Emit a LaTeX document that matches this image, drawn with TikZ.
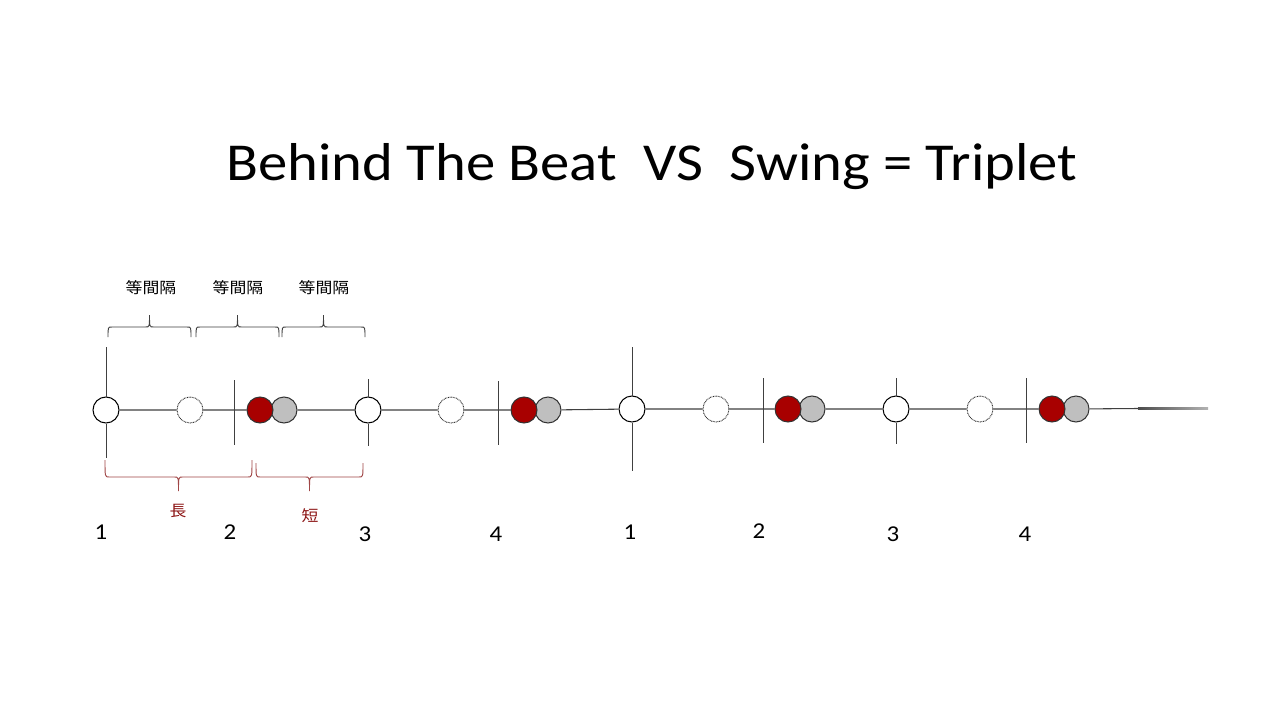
\documentclass[tikz,border=0pt]{standalone}
\usepackage{fontspec}
\setmainfont{Carlito}
\newfontfamily\cjk{Noto Sans CJK JP}
\definecolor{lineg}{RGB}{64,64,64}
\definecolor{beatred}{RGB}{168,0,0}
\definecolor{ghost}{RGB}{191,191,191}
\definecolor{bracered}{RGB}{160,70,70}
\definecolor{labred}{RGB}{140,20,20}
\newcommand\obr[5]{%
  \draw (#1,#3) .. controls (#1,#4) .. ({#1+4},#4) -- ({(#1+#2)/2-4},#4)
    .. controls ({(#1+#2)/2},#4) .. ({(#1+#2)/2},#5)
    .. controls ({(#1+#2)/2},#4) .. ({(#1+#2)/2+4},#4) -- ({#2-4},#4)
    .. controls (#2,#4) .. (#2,#3);}
\newcommand\wide[1]{\scalebox{1.1}[1]{#1}}
\tikzset{
  beat/.style={circle,draw=black,fill=white,line width=0.75pt,minimum size=19.5pt,inner sep=0pt},
  ghostbeat/.style={circle,draw=black!85,dash pattern=on 0.6pt off 0.6pt,fill=white,line width=0.7pt,minimum size=19.5pt,inner sep=0pt},
  redbeat/.style={circle,draw=black!80,fill=beatred,line width=0.75pt,minimum size=19.5pt,inner sep=0pt},
  graybeat/.style={circle,draw=black!80,fill=ghost,line width=0.75pt,minimum size=19.5pt,inner sep=0pt},
  mainline/.style={draw=lineg,line width=0.8pt},
  tick/.style={draw=black!75,line width=0.75pt},
  num/.style={font=\fontsize{17}{20}\selectfont,anchor=base},
  eqlab/.style={font=\cjk\fontsize{11.5}{14}\selectfont},
  redlab/.style={font=\cjk\fontsize{11.5}{14}\selectfont,text=labred}
}
\begin{document}
\begin{tikzpicture}[x=0.75pt,y=-0.75pt]
\useasboundingbox (0,0) rectangle (1280,720);
\fill[white] (0,0) rectangle (1280,720);
% title
\node[anchor=base,font=\fontsize{40}{48}\selectfont] (title) at (652,181) {\wide{Behind The Beat\ \ VS\ \ Swing = Triplet}};
% gray circles first (behind red)
\node[graybeat] (g1) at (284,410) {};
\node[graybeat] (g2) at (548,410) {};
\node[graybeat] (g3) at (812,409) {};
\node[graybeat] (g4) at (1076,409) {};
\node[redbeat] (r1) at (260,410) {};
\node[redbeat] (r2) at (524,410) {};
\node[redbeat] (r3) at (788,409) {};
\node[redbeat] (r4) at (1052,409) {};
\node[beat] (b1) at (106,410) {};
\node[beat] (b2) at (368,410) {};
\node[beat] (b3) at (632,409) {};
\node[beat] (b4) at (896,409) {};
\node[ghostbeat] (d1) at (190,410) {};
\node[ghostbeat] (d2) at (451,410) {};
\node[ghostbeat] (d3) at (716,409) {};
\node[ghostbeat] (d4) at (980,409) {};
\coordinate (lend) at (1138,408.5);
% main line
\path[mainline] (b1) -- (d1) (d1) -- (r1) (g1) -- (b2) (b2) -- (d2) (d2) -- (r2) (g2) -- (b3)
  (b3) -- (d3) (d3) -- (r3) (g3) -- (b4) (b4) -- (d4) (d4) -- (r4) (g4) -- (lend);
\shade[left color=black!70,right color=black!30] (1138,407.9) rectangle (1208,409.1);
% ticks on beat circles
\path[tick] (b1.north) -- ++(0,-50) (b1.south) -- ++(0,34);
\path[tick] (b2.north) -- ++(0,-18) (b2.south) -- ++(0,22);
\path[tick] (b3.north) -- ++(0,-49) (b3.south) -- ++(0,48);
\path[tick] (b4.north) -- ++(0,-18) (b4.south) -- ++(0,21);
% vertical lines at 2 and 4
\path[tick] (234,380) -- (234,445);
\path[tick] (498,381) -- (498,445);
\path[tick] (763,378) -- (763,443);
\path[tick] (1026,378) -- (1026,443);
% top braces
\begin{scope}[draw=black!75,line width=0.7pt]
\obr{108}{191}{337}{327}{315}
\obr{196}{279}{337}{327}{315}
\obr{282}{365}{337}{327}{315}
\end{scope}
\node[eqlab] (e1) at (151,288) {\wide{等間隔}};
\node[eqlab] (e2) at (238,288) {\wide{等間隔}};
\node[eqlab] (e3) at (324,288) {\wide{等間隔}};
% bottom braces
\begin{scope}[draw=bracered,line width=0.7pt]
\obr{105}{252}{460}{477}{491}
\obr{256}{363}{463}{477}{491}
\end{scope}
\node[redlab] (long) at (178,511) {\wide{長}};
\node[redlab] (short) at (310,516) {\wide{短}};
% beat numbers
\node[num] (n1) at (101,539) {\wide{1}};
\node[num] (n2) at (230,539) {\wide{2}};
\node[num] (n3) at (365,541) {\wide{3}};
\node[num] (n4) at (496,541) {\wide{4}};
\node[num] (n5) at (630,539) {\wide{1}};
\node[num] (n6) at (759,538) {\wide{2}};
\node[num] (n7) at (893,541) {\wide{3}};
\node[num] (n8) at (1025,541) {\wide{4}};
\end{tikzpicture}
\end{document}
